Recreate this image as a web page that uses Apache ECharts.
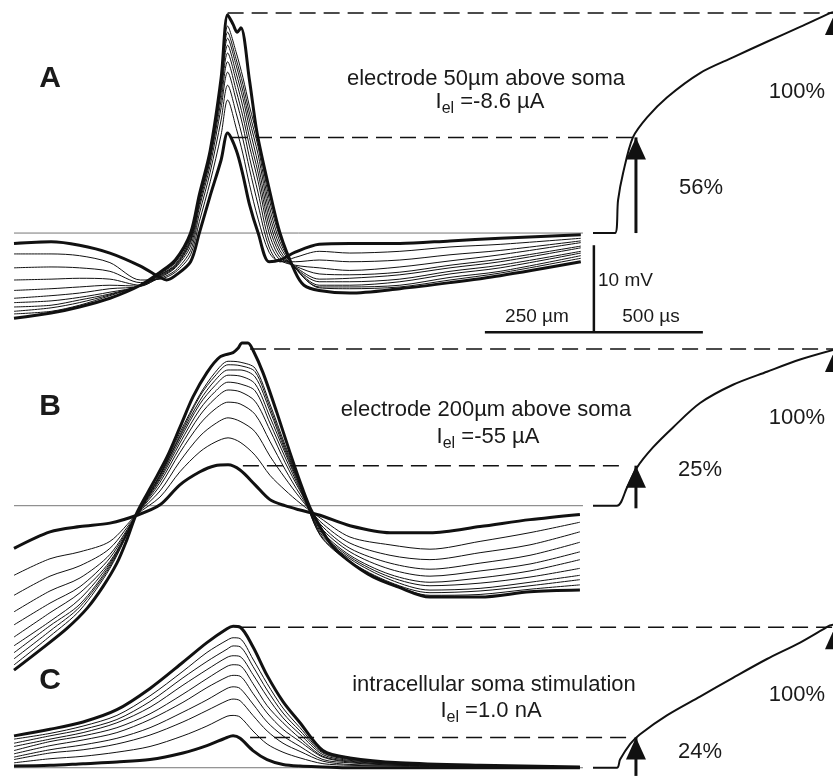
<!DOCTYPE html>
<html>
<head>
<meta charset="utf-8">
<title>Spike amplitude: extracellular vs intracellular stimulation</title>
<script src="https://cdn.jsdelivr.net/npm/echarts@6.0.0/dist/echarts.min.js"></script>
<style>
  html, body { margin: 0; padding: 0; background: #fff; }
  #chart { width: 833px; height: 780px; }
</style>
</head>
<body>
<div id="chart"></div>
<script>
// time in ms, potential in mV (0 = resting baseline of each panel)

// ---- A: electrode 50µm above soma
const timesA = [0, 0.17, 0.30, 0.44, 0.58, 0.67, 0.74, 0.81, 0.85, 0.90, 0.95, 0.98, 1.02, 1.05, 1.08, 1.12, 1.17, 1.22, 1.29, 1.40, 1.54, 1.77, 2.00, 2.23, 2.60];
const thinA = [
  [-2.4, -2.4, -2.6, -3.4, -5.4, -5.3, -4.5, -2.5, 1.3, 5.9, 11.3, 15.3, 12.0, 9.1, 5.6, 1.6, -2.2, -3.3, -2.8, -2.1, -2.3, -2.1, -1.6, -1.3, -0.6],
  [-4.0, -3.9, -4.0, -4.4, -5.7, -5.2, -4.3, -2.0, 2.2, 7.0, 13.0, 17.0, 13.7, 10.8, 7.4, 3.2, -1.6, -3.3, -3.3, -3.1, -3.3, -3.1, -2.5, -2.0, -0.9],
  [-5.4, -5.3, -5.2, -5.3, -6.0, -5.1, -4.0, -1.5, 2.9, 7.8, 14.4, 18.5, 15.2, 12.3, 8.7, 4.6, -0.9, -3.1, -3.7, -4.0, -4.3, -3.9, -3.2, -2.5, -1.1],
  [-6.6, -6.4, -6.2, -6.0, -6.1, -5.0, -3.9, -1.1, 3.3, 8.4, 15.3, 19.7, 16.3, 13.4, 10.0, 5.9, 0.0, -2.8, -3.8, -4.7, -4.8, -4.5, -3.7, -3.0, -1.5],
  [-7.5, -7.2, -6.9, -6.4, -6.1, -4.9, -3.8, -0.9, 3.7, 8.7, 16.1, 20.7, 17.4, 14.5, 11.0, 6.9, 0.8, -2.4, -3.9, -5.3, -5.2, -4.8, -4.0, -3.3, -1.7],
  [-8.0, -7.8, -7.4, -6.8, -6.1, -4.8, -3.7, -0.7, 3.9, 9.0, 16.7, 21.6, 18.3, 15.5, 12.1, 7.9, 1.6, -2.0, -4.0, -5.6, -5.6, -5.3, -4.4, -3.7, -2.1],
  [-8.5, -8.3, -7.7, -7.0, -6.0, -4.8, -3.6, -0.5, 4.0, 9.2, 17.0, 22.4, 19.2, 16.3, 13.0, 9.0, 2.4, -1.5, -4.0, -6.0, -6.0, -5.6, -4.7, -4.0, -2.3],
  [-9.0, -8.6, -8.0, -7.1, -6.0, -4.7, -3.4, -0.3, 4.1, 9.3, 17.4, 23.1, 19.9, 17.1, 13.8, 9.9, 3.2, -1.0, -4.0, -6.2, -6.2, -6.0, -5.1, -4.4, -2.6],
  [-9.3, -9.0, -8.3, -7.2, -6.0, -4.6, -3.3, -0.2, 4.3, 9.4, 17.6, 23.8, 20.7, 17.9, 14.6, 10.7, 4.0, -0.5, -4.0, -6.3, -6.4, -6.2, -5.4, -4.6, -2.9]
];
const lowTimesA = [0, 0.17, 0.30, 0.44, 0.58, 0.67, 0.70, 0.74, 0.81, 0.85, 0.90, 0.95, 0.98, 1.02, 1.05, 1.08, 1.12, 1.17, 1.22, 1.29, 1.40, 1.54, 1.77, 2.00, 2.23, 2.60];
const lowA = [-1.2, -1.0, -1.4, -2.3, -3.8, -5.1, -5.4, -4.9, -3.3, 0.0, 4.3, 8.4, 11.5, 9.5, 6.7, 3.3, 0.0, -3.3, -3.1, -2.2, -1.3, -1.2, -1.2, -0.9, -0.6, -0.2];
const highTimesA = [0, 0.17, 0.30, 0.44, 0.58, 0.67, 0.74, 0.81, 0.85, 0.90, 0.95, 0.98, 1.005, 1.023, 1.041, 1.08, 1.115, 1.165, 1.22, 1.29, 1.33, 1.40, 1.54, 1.77, 2.00, 2.23, 2.60];
const highA = [-9.8, -9.2, -8.5, -7.5, -6.0, -4.5, -3.1, 0.0, 4.4, 9.5, 17.8, 25.1, 24.0, 23.1, 23.6, 17.6, 11.5, 5.7, 0.0, -4.5, -6.0, -6.6, -6.9, -6.4, -5.7, -4.9, -3.3];
const rightTimesA = [2.656, 2.757, 2.771, 2.794, 2.839, 2.904, 2.995, 3.147, 3.298, 3.454, 3.606, 3.743, 3.757];
const rightA = [0, 0, 3.8, 6.9, 11.0, 13.3, 15.6, 18.4, 20.2, 22.0, 23.7, 25.3, 25.4];
const dashA = [[0.98, 3.77, 25.3], [1.00, 2.84, 11.0]];     // [from, to, level]
const arrowA = [[2.853, 0, 11.0], [3.766, 0, 25.3]];        // [t, from, tip]

// ---- B: electrode 200µm above soma
const timesB = [0, 0.165, 0.303, 0.440, 0.564, 0.670, 0.761, 0.853, 0.922, 0.982, 1.037, 1.106, 1.174, 1.243, 1.312, 1.404, 1.541, 1.725, 1.908, 2.138, 2.367, 2.596];
const thinB = [
  [-8.0, -6.1, -5.3, -4.1, -1.0, 1.0, 3.9, 6.2, 7.3, 7.8, 7.3, 5.8, 3.5, 1.8, 0.3, -1.4, -3.6, -4.5, -5.0, -4.1, -3.1, -1.9],
  [-10.3, -8.1, -6.9, -4.9, -1.0, 1.7, 5.1, 8.0, 9.4, 10.1, 9.7, 8.5, 5.7, 3.2, 0.9, -1.8, -4.3, -5.7, -6.2, -5.4, -4.5, -3.0],
  [-12.2, -9.8, -8.3, -5.6, -1.0, 2.3, 6.1, 9.4, 11.1, 11.9, 11.7, 10.5, 7.4, 4.2, 1.3, -2.1, -4.9, -6.6, -7.3, -6.6, -5.7, -4.2],
  [-13.7, -11.2, -9.3, -6.0, -1.0, 2.7, 6.7, 10.4, 12.3, 13.3, 13.1, 12.0, 8.7, 5.0, 1.7, -2.4, -5.3, -7.3, -8.1, -7.5, -6.7, -5.3],
  [-15.1, -12.3, -10.0, -6.4, -1.0, 3.0, 7.2, 11.1, 13.1, 14.2, 14.0, 13.2, 9.5, 5.6, 1.9, -2.7, -5.7, -7.9, -8.8, -8.3, -7.5, -6.2],
  [-16.1, -13.3, -10.7, -6.6, -1.0, 3.2, 7.6, 11.7, 13.8, 15.0, 14.9, 14.0, 10.2, 6.1, 2.1, -2.9, -5.9, -8.2, -9.2, -8.9, -8.2, -7.2],
  [-16.9, -13.8, -11.3, -6.8, -1.0, 3.4, 7.9, 12.1, 14.4, 15.6, 15.6, 14.8, 10.9, 6.4, 2.3, -3.1, -6.1, -8.5, -9.7, -9.5, -8.8, -8.0],
  [-17.6, -14.4, -11.6, -7.0, -1.0, 3.5, 8.1, 12.6, 14.9, 16.2, 16.1, 15.4, 11.3, 6.7, 2.4, -3.3, -6.4, -8.8, -10.0, -9.8, -9.2, -8.5],
  [-18.3, -15.0, -12.0, -7.2, -1.0, 3.6, 8.4, 12.8, 15.3, 16.6, 16.5, 15.8, 11.7, 7.0, 2.5, -3.4, -6.5, -8.9, -10.3, -10.2, -9.6, -9.1]
];
const lowTimesB = timesB;
const lowB = [-4.9, -3.0, -2.4, -2.0, -1.1, 0.1, 2.4, 3.9, 4.6, 4.7, 4.1, 2.4, 0.7, 0.0, -0.5, -1.1, -2.3, -3.1, -3.1, -2.4, -1.6, -1.0];
const highTimesB = [0, 0.119, 0.243, 0.335, 0.408, 0.472, 0.518, 0.564, 0.638, 0.702, 0.761, 0.821, 0.885, 0.945, 1.005, 1.028, 1.046, 1.073, 1.096, 1.142, 1.206, 1.266, 1.326, 1.367, 1.450, 1.528, 1.647, 1.757, 1.908, 2.138, 2.367, 2.596];
const highB = [-18.9, -16.6, -14.1, -11.8, -9.3, -6.6, -3.9, -0.8, 2.6, 5.6, 9.0, 12.5, 15.3, 17.1, 17.6, 18.1, 18.7, 18.7, 17.9, 15.3, 10.7, 6.1, 1.8, -0.7, -4.3, -6.2, -8.2, -9.3, -10.5, -10.5, -9.9, -9.7];
const rightTimesB = [2.656, 2.766, 2.812, 2.858, 2.931, 3.023, 3.147, 3.298, 3.454, 3.606, 3.757];
const rightB = [0, 0, 2.1, 4.4, 6.7, 9.0, 11.8, 13.9, 15.4, 16.8, 17.9];
const dashB = [[1.083, 3.77, 18.0], [1.05, 2.78, 4.6]];
const arrowB = [[2.853, -0.3, 4.6], [3.766, 0, 17.9]];

// ---- C: intracellular soma stimulation
const timesC = [0, 0.165, 0.317, 0.472, 0.624, 0.775, 0.885, 0.977, 1.005, 1.037, 1.096, 1.161, 1.234, 1.312, 1.417, 1.541, 1.771, 2.138, 2.596];
const thinC = [
  [0.6, 1.1, 1.4, 1.9, 2.6, 3.9, 5.1, 6.3, 6.4, 6.2, 4.5, 2.9, 1.9, 1.2, 0.5, 0.3, 0.2, 0.1, 0.1],
  [1.0, 1.8, 2.2, 2.9, 4.0, 5.6, 7.0, 8.2, 8.4, 8.2, 6.4, 4.5, 3.0, 2.0, 0.8, 0.4, 0.3, 0.1, 0.1],
  [1.3, 2.2, 2.8, 3.6, 4.9, 6.8, 8.3, 9.7, 9.9, 9.7, 7.8, 5.6, 3.9, 2.6, 1.0, 0.6, 0.3, 0.2, 0.1],
  [1.7, 2.7, 3.4, 4.3, 5.9, 8.0, 9.8, 11.1, 11.3, 11.2, 9.1, 6.7, 4.7, 3.2, 1.3, 0.7, 0.4, 0.2, 0.1],
  [2.1, 3.2, 3.9, 4.9, 6.6, 9.0, 10.9, 12.4, 12.6, 12.5, 10.3, 7.6, 5.5, 3.6, 1.4, 0.8, 0.4, 0.2, 0.1],
  [2.6, 3.5, 4.3, 5.5, 7.4, 10.1, 12.0, 13.5, 13.7, 13.6, 11.4, 8.7, 6.1, 4.1, 1.6, 0.9, 0.5, 0.2, 0.1],
  [3.0, 3.9, 4.7, 5.9, 8.1, 11.0, 13.0, 14.5, 14.9, 14.8, 12.4, 9.5, 6.7, 4.5, 1.8, 1.0, 0.5, 0.2, 0.1],
  [3.5, 4.2, 5.1, 6.4, 8.8, 11.8, 14.1, 15.6, 15.9, 15.8, 13.3, 10.3, 7.3, 4.9, 1.9, 1.1, 0.6, 0.3, 0.1]
];
const lowTimesC = timesC;
const lowC = [0.2, 0.3, 0.5, 0.7, 1.0, 1.8, 2.7, 3.7, 3.9, 3.6, 2.1, 1.0, 0.4, 0.2, 0.1, 0.0, 0.0, 0.0, 0.0];
const highTimesC = timesC;
const highC = [3.9, 4.7, 5.6, 7.1, 9.7, 12.9, 15.3, 17.0, 17.3, 17.2, 14.8, 11.3, 8.1, 5.5, 2.1, 1.2, 0.6, 0.3, 0.1];
const rightTimesC = [2.656, 2.766, 2.780, 2.826, 2.872, 2.995, 3.147, 3.298, 3.454, 3.606, 3.743, 3.757];
const rightC = [0, 0, 1.0, 2.9, 4.1, 6.4, 8.7, 11.0, 13.3, 15.3, 17.4, 17.5];
const dashC = [[1.037, 3.77, 17.2], [1.083, 2.826, 3.7]];
const arrowC = [[2.853, -1.0, 3.7], [3.766, 0, 17.2]];

// scale bar (drawn in panel A): 10 mV vertical, 2 x 500 µs horizontal
const scaleBarV = [2.66, -11.4, -1.4];
const scaleBarH = [2.16, 3.16, -11.4];
const traceEnd = 2.61;

// ---- layout: px per mV / per ms, trace origin, baseline of each panel and its mV range
const MV = 8.7, MS = 218, X0 = 14, W = 833;
const baselines = [233, 505.7, 778.5];
const ranges = [[-13, 26.8], [-24.6, 19.5], [-1.5, 20.5]];

const chart = echarts.init(document.getElementById('chart'));

function line(gi, ts, vs, width, extra) {
  return Object.assign({
    type: 'line', xAxisIndex: gi, yAxisIndex: gi,
    data: ts.map((t, i) => [t, vs[i]]),
    showSymbol: false, symbol: 'none', clip: false, silent: true, smooth: 0.3,
    lineStyle: { color: '#111', width: width, join: 'round' },
    z: 2
  }, extra || {});
}

function panelSeries(gi, p) {
  const s = [];
  s.push(line(gi, [0, traceEnd], [0, 0], 1, { smooth: false, lineStyle: { color: '#777', width: 1 } }));
  p.thin.forEach(v => s.push(line(gi, p.times, v, 1)));
  s.push(line(gi, p.lowT, p.low, 3));
  s.push(line(gi, p.highT, p.high, 3));
  s.push(line(gi, p.rightT, p.right, 2));
  p.dash.forEach(d => s.push(line(gi, [d[0], d[1]], [d[2], d[2]], 1.5,
    { smooth: false, lineStyle: { color: '#111', width: 1.5, type: [16, 8] } })));
  p.arrows.forEach(a => {
    s.push(line(gi, [a[0], a[0]], [a[1], a[2]], 3, { smooth: false }));
    s.push({
      type: 'scatter', xAxisIndex: gi, yAxisIndex: gi, data: [[a[0], a[2]]],
      symbol: 'triangle', symbolSize: [20, 22], symbolOffset: [0, '50%'],
      itemStyle: { color: '#111', opacity: 1 }, silent: true, clip: false, z: 3
    });
  });
  return s;
}

const series = [].concat(
  panelSeries(0, { times: timesA, thin: thinA, lowT: lowTimesA, low: lowA, highT: highTimesA, high: highA,
                   rightT: rightTimesA, right: rightA, dash: dashA, arrows: arrowA }),
  panelSeries(1, { times: timesB, thin: thinB, lowT: lowTimesB, low: lowB, highT: highTimesB, high: highB,
                   rightT: rightTimesB, right: rightB, dash: dashB, arrows: arrowB }),
  panelSeries(2, { times: timesC, thin: thinC, lowT: lowTimesC, low: lowC, highT: highTimesC, high: highC,
                   rightT: rightTimesC, right: rightC, dash: dashC, arrows: arrowC }),
  [
    line(0, [scaleBarV[0], scaleBarV[0]], [scaleBarV[1], scaleBarV[2]], 2.5, { smooth: false }),
    line(0, [scaleBarH[0], scaleBarH[1]], [scaleBarH[2], scaleBarH[2]], 2.5, { smooth: false })
  ]
);

const FONT = '"Liberation Sans", Arial, sans-serif';
function txt(x, y, text, size, weight, align) {
  return {
    type: 'text', x: x, y: y, silent: true, z: 10,
    style: {
      text: text, font: (weight || 'normal') + ' ' + size + 'px ' + FONT, fill: '#1a1a1a',
      align: align || 'center', verticalAlign: 'middle',
      textAlign: align || 'center', textVerticalAlign: 'middle'
    }
  };
}
function current(x, y, value) {
  return {
    type: 'text', x: x, y: y, silent: true, z: 10,
    style: {
      text: '{m|I}{s|el}{m| =' + value + '}',
      align: 'center', verticalAlign: 'middle', textAlign: 'center', textVerticalAlign: 'middle',
      rich: {
        m: { fontFamily: FONT, fontSize: 22, fill: '#1a1a1a', color: '#1a1a1a' },
        s: { fontFamily: FONT, fontSize: 16, fill: '#1a1a1a', color: '#1a1a1a', padding: [14, 0, 0, 0] }
      }
    }
  };
}

chart.setOption({
  animation: false,
  backgroundColor: '#fff',
  grid: baselines.map((b, i) => ({
    left: 0, width: W, top: b - ranges[i][1] * MV, height: (ranges[i][1] - ranges[i][0]) * MV
  })),
  xAxis: baselines.map((b, i) => ({ type: 'value', gridIndex: i, min: -X0 / MS, max: (W - X0) / MS, show: false })),
  yAxis: baselines.map((b, i) => ({ type: 'value', gridIndex: i, min: ranges[i][0], max: ranges[i][1], show: false })),
  series: series,
  graphic: [
    txt(50, 79, 'A', 30, 'bold'),
    txt(50, 407, 'B', 30, 'bold'),
    txt(50, 681, 'C', 30, 'bold'),
    txt(486, 79, 'electrode 50µm above soma', 22),
    current(490, 102, '-8.6 µA'),
    txt(486, 410, 'electrode 200µm above soma', 22),
    current(488, 437, '-55 µA'),
    txt(494, 685, 'intracellular soma stimulation', 22),
    current(491, 711, '1.0 nA'),
    txt(797, 92, '100%', 22),
    txt(797, 418, '100%', 22),
    txt(797, 695, '100%', 22),
    txt(701, 188, '56%', 22),
    txt(700, 470, '25%', 22),
    txt(700, 752, '24%', 22),
    txt(598, 281, '10 mV', 19, 'normal', 'left'),
    txt(537, 317, '250 µm', 19),
    txt(651, 317, '500 µs', 19)
  ]
});
</script>
</body>
</html>
